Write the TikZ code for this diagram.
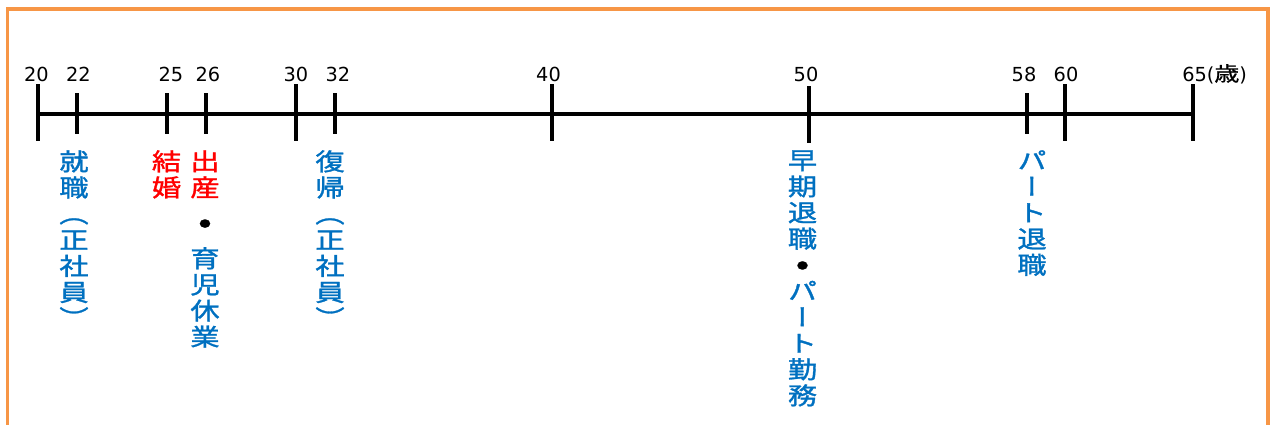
\documentclass[tikz,border=0pt]{standalone}
\usepackage{fontspec}
\usepackage{graphicx}
\setmainfont{DejaVu Sans}
\newfontfamily\cjk[FakeBold=1]{Noto Sans CJK JP}
\newfontfamily\cjkv[RawFeature=+vert,FakeBold=1.2]{Noto Sans CJK JP}
\definecolor{jblue}{HTML}{0070C0}
\definecolor{jred}{HTML}{FF0000}
\definecolor{frameorange}{HTML}{F79646}
\newcommand\vcol[1]{\scalebox{1.22}[1]{\vbox{\hsize=26pt\centering\baselineskip=19.6pt\lineskiplimit=-20pt\lineskip=0pt #1\par}}}
\newcommand\vdot{\raisebox{3.6pt}{\fontsize{7}{7}\selectfont ●}}
\begin{document}
\begin{tikzpicture}[x=0.75pt,y=-0.75pt,
  axisline/.style={line width=2.3pt,black},
  age/.style={font=\fontsize{14.5}{16}\selectfont,anchor=base,inner sep=0pt},
  vlab/.style={anchor=north,inner sep=0pt,font=\cjkv\fontsize{18}{19.6}\selectfont}]
\useasboundingbox (0,0) rectangle (1275,425);
\clip (0,0) rectangle (1275,425);
\draw[frameorange,line width=2.7pt] (7.5,9) rectangle (1268,450);
% axis
\coordinate (t20) at (38,114);
\coordinate (t65) at (1193,114);
\draw[axisline] (t20) -- (t65);
% long ticks
\foreach \x in {38,296,552,1065,1193} \draw[axisline] (\x,84) -- (\x,141);
\draw[axisline] (809,86) -- (809,143);
% short ticks
\foreach \x in {77,167,206,335,1027} \draw[axisline] (\x,93) -- (\x,134);
% age labels
\node[age] (a20) at (36.5,81) {20};
\node[age] (a22) at (78.5,81) {22};
\node[age] (a25) at (171,81) {25};
\node[age] (a26) at (208,81) {26};
\node[age] (a30) at (296,81) {30};
\node[age] (a32) at (338,81) {32};
\node[age] (a40) at (548.5,81) {40};
\node[age] (a50) at (806,81) {50};
\node[age] (a58) at (1024,81) {58};
\node[age] (a60) at (1066,81) {60};
\node[age,anchor=base west] (a65) at (1182,81) {65(\scalebox{1.25}[1]{\cjk\fontsize{15}{16}\selectfont 歳})};
% event labels
\node[vlab,text=jblue] (e22) at (74,150) {\vcol{就\\職\\︵\\正\\社\\員\\︶}};
\node[vlab,text=jred] (e25) at (166.5,150) {\vcol{結\\婚}};
\node[vlab,text=jblue] (e26) at (205,150) {\vcol{{\color{jred}出}\\{\color{jred}産}\\[7pt]{\color{black}\vdot}\\[7pt]育\\児\\休\\業}};
\node[vlab,text=jblue] (e32) at (330,150) {\vcol{復\\帰\\︵\\正\\社\\員\\︶}};
\node[vlab,text=jblue] (e50) at (802.5,150) {\vcol{早\\期\\退\\職\\{\color{black}\vdot}\\パ\\ー\\ト\\勤\\務}};
\node[vlab,text=jblue] (e58) at (1032,150) {\vcol{パ\\ー\\ト\\退\\職}};
\end{tikzpicture}
\end{document}
